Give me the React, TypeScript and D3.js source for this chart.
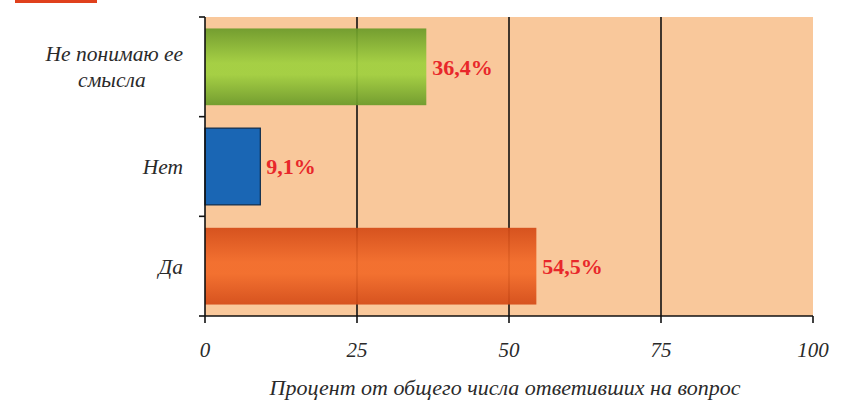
import { useEffect, useRef } from 'react';
import * as d3 from 'd3';

const categories = ['Не понимаю ее смысла', 'Нет', 'Да'];
const labelLines = [['Не понимаю ее', 'смысла'], ['Нет'], ['Да']];
const values = [36.4, 9.1, 54.5];
const valueLabels = ['36,4%', '9,1%', '54,5%'];
const xTicks = [0, 25, 50, 75, 100];
const barColors = [
  ['#6a9a28', '#9fd03e'],
  ['#1a66b4', '#1a66b4'],
  ['#d44a16', '#f26a28'],
];
const axisTitle = 'Процент от общего числа ответивших на вопрос';

function App() {
  const ref = useRef<SVGSVGElement>(null);
  const width = 855;
  const height = 401;
  const left = 205;
  const right = 813;
  const top = 17;
  const bottom = 316;
  const font = '"Liberation Serif", "DejaVu Serif", serif';

  useEffect(() => {
    const svg = d3.select(ref.current);
    svg.selectAll('*').remove();

    const x = d3.scaleLinear().domain([0, 100]).range([left, right]);
    const y = d3.scaleBand().domain(categories).range([top, bottom]).paddingInner(0.23).paddingOuter(0.115);
    const bandStep = (bottom - top) / categories.length;

    const defs = svg.append('defs');
    barColors.forEach((c, i) => {
      const g = defs.append('linearGradient')
        .attr('id', `g${i}`)
        .attr('x1', 0).attr('y1', 0).attr('x2', 0).attr('y2', 1);
      g.append('stop').attr('offset', '0%').attr('stop-color', c[0]);
      g.append('stop').attr('offset', '45%').attr('stop-color', c[1]);
      g.append('stop').attr('offset', '60%').attr('stop-color', c[1]);
      g.append('stop').attr('offset', '100%').attr('stop-color', c[0]);
    });

    // title remnant
    svg.append('rect').attr('x', 15).attr('y', 0).attr('width', 82).attr('height', 3).attr('fill', '#e0401c');

    svg.append('rect')
      .attr('x', left).attr('y', top)
      .attr('width', right - left).attr('height', bottom - top)
      .attr('fill', '#f9c89b');

    svg.append('g')
      .selectAll('line')
      .data(xTicks.slice(1, -1))
      .enter()
      .append('line')
      .attr('x1', (d) => x(d)).attr('x2', (d) => x(d))
      .attr('y1', top).attr('y2', bottom)
      .attr('stroke', '#111').attr('stroke-width', 1.6);

    svg.append('g')
      .selectAll('rect')
      .data(categories)
      .enter()
      .append('rect')
      .attr('x', left)
      .attr('y', (d) => y(d) as number)
      .attr('width', (d, i) => x(values[i]) - x(0))
      .attr('height', y.bandwidth())
      .attr('fill', (d, i) => `url(#g${i})`)
      .attr('fill-opacity', (d, i) => (i === 1 ? 1 : 0.93))
      .attr('stroke', (d, i) => (i === 1 ? '#0d2a4a' : 'none'))
      .attr('stroke-width', 1.2);

    svg.append('g')
      .selectAll('text')
      .data(categories)
      .enter()
      .append('text')
      .attr('x', (d, i) => x(values[i]) + 6)
      .attr('y', (d) => (y(d) as number) + y.bandwidth() / 2)
      .attr('dy', '0.35em')
      .attr('fill', '#e8272a')
      .attr('font-family', font)
      .attr('font-weight', 'bold')
      .attr('font-size', 22)
      .text((d, i) => valueLabels[i]);

    // axes
    const axis = svg.append('g').attr('stroke', '#111').attr('stroke-width', 1.6);
    axis.append('line').attr('x1', left).attr('x2', right).attr('y1', bottom).attr('y2', bottom);
    axis.append('line').attr('x1', left).attr('x2', left).attr('y1', top).attr('y2', bottom);
    axis.selectAll('.xt')
      .data(xTicks)
      .enter()
      .append('line')
      .attr('x1', (d) => x(d)).attr('x2', (d) => x(d))
      .attr('y1', bottom).attr('y2', bottom + 7);
    axis.selectAll('.yt')
      .data(d3.range(categories.length + 1))
      .enter()
      .append('line')
      .attr('x1', left - 6).attr('x2', left)
      .attr('y1', (d) => top + d * bandStep).attr('y2', (d) => top + d * bandStep);

    svg.append('g')
      .selectAll('text')
      .data(xTicks)
      .enter()
      .append('text')
      .attr('x', (d) => x(d))
      .attr('y', 350)
      .attr('dy', '0.35em')
      .attr('text-anchor', 'middle')
      .attr('font-family', font)
      .attr('font-style', 'italic')
      .attr('font-size', 21)
      .attr('fill', '#2a2a2a')
      .text((d) => d);

    const catG = svg.append('g')
      .attr('font-family', font)
      .attr('font-style', 'italic')
      .attr('font-size', 21.5)
      .attr('fill', '#2a2a2a');
    categories.forEach((c, i) => {
      const lines = labelLines[i];
      const cy = (y(c) as number) + y.bandwidth() / 2;
      const t = catG.append('text');
      lines.forEach((ln, j) => {
        t.append('tspan')
          .attr('x', j === 0 ? 183 : 112)
          .attr('y', cy - ((lines.length - 1) * 26) / 2 + j * 26)
          .attr('dy', '0.35em')
          .attr('text-anchor', j === 0 ? 'end' : 'middle')
          .text(ln);
      });
    });

    svg.append('text')
      .attr('x', 505)
      .attr('y', 387)
      .attr('dy', '0.35em')
      .attr('text-anchor', 'middle')
      .attr('font-family', font)
      .attr('font-style', 'italic')
      .attr('font-size', 22)
      .attr('fill', '#2a2a2a')
      .text(axisTitle);
  }, []);

  return (
    <div style={{ position: 'absolute', left: 0, top: 0, background: '#fff' }}>
      <svg width={width} height={height} ref={ref} />
    </div>
  );
}

export default App;
